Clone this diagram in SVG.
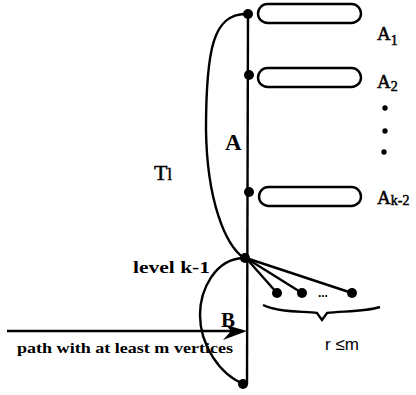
<svg xmlns="http://www.w3.org/2000/svg" width="416" height="395" viewBox="0 0 416 395">
<defs>
<style>
.ln{fill:none;stroke:#000;stroke-width:2.4}
.box{fill:#fff;stroke:#000;stroke-width:2.4}
.dot{fill:#000}
.t{font-family:"Liberation Serif","Times New Roman",serif;fill:#000}
.b{font-weight:bold}
.s{font-family:"Liberation Sans",Arial,sans-serif;fill:#000}
.lab{stroke:#000;stroke-width:0.5}
</style>
</defs>
<rect width="416" height="395" fill="#fff"/>
<g id="connectors">
<line class="ln" x1="248" y1="13" x2="247" y2="384"/>
<path class="ln" d="M247,14 C213,13 206,50 206,130 C207,200 225,245 244,258"/>
<path class="ln" d="M245,258 C215,258 200,290 200,315 C200,345 220,375 244,384"/>
<line class="ln" x1="246" y1="258" x2="277" y2="293"/>
<line class="ln" x1="246" y1="258" x2="302" y2="293"/>
<line class="ln" x1="246" y1="258" x2="352" y2="293"/>
<line class="ln" x1="7" y1="331" x2="240" y2="331"/>
<polygon points="247,331 226,325 231,331 223,340" fill="#000"/>
<path class="ln" d="M263,305 C280,313 305,311 317,313 L322,320 L327,313 C340,311 365,312 380,307"/>
</g>
<g id="A1"><rect class="box" x="258" y="4" width="103" height="19" rx="9.5"/><text class="t lab" x="377" y="40" font-size="19">A<tspan font-size="14" dy="5">1</tspan></text></g>
<g id="A2"><rect class="box" x="258" y="68" width="103" height="19" rx="9.5"/><text class="t lab" x="377" y="88" font-size="19">A<tspan font-size="14" dy="3">2</tspan></text></g>
<g id="Ak2"><rect class="box" x="259" y="187" width="102" height="19" rx="9.5"/><text class="t lab" x="377" y="204" font-size="19">A<tspan font-size="14" dy="1">k-2</tspan></text></g>
<g id="vdots"><circle class="dot" cx="385" cy="108" r="2.7"/><circle class="dot" cx="385" cy="131" r="2.7"/><circle class="dot" cx="384" cy="152" r="2.7"/></g>
<g id="nodes">
<circle class="dot" cx="248" cy="14" r="5"/>
<circle class="dot" cx="249" cy="75" r="5"/>
<circle class="dot" cx="249" cy="192" r="5"/>
<circle class="dot" cx="245" cy="258" r="5"/>
<circle class="dot" cx="243" cy="384" r="5"/>
<circle class="dot" cx="277" cy="293" r="5"/>
<circle class="dot" cx="302" cy="293" r="5"/>
<circle class="dot" cx="352" cy="293" r="5"/>
</g>
<g id="labels">
<text class="t b" x="225" y="150" font-size="23">A</text>
<text class="t lab" x="154" y="180" font-size="22">T<tspan font-size="16" dy="0">l</tspan></text>
<text class="t b" x="133" y="273" font-size="17" textLength="77" lengthAdjust="spacingAndGlyphs">level k-1</text>
<text class="t b" x="221" y="327" font-size="21">B</text>
<text class="t b" x="17" y="353" font-size="15" textLength="216" lengthAdjust="spacingAndGlyphs">path with at least  m vertices</text>
<text class="t b" x="318" y="297" font-size="13">...</text>
<text class="s" x="325" y="350" font-size="17">r ≤m</text>
</g>
</svg>
